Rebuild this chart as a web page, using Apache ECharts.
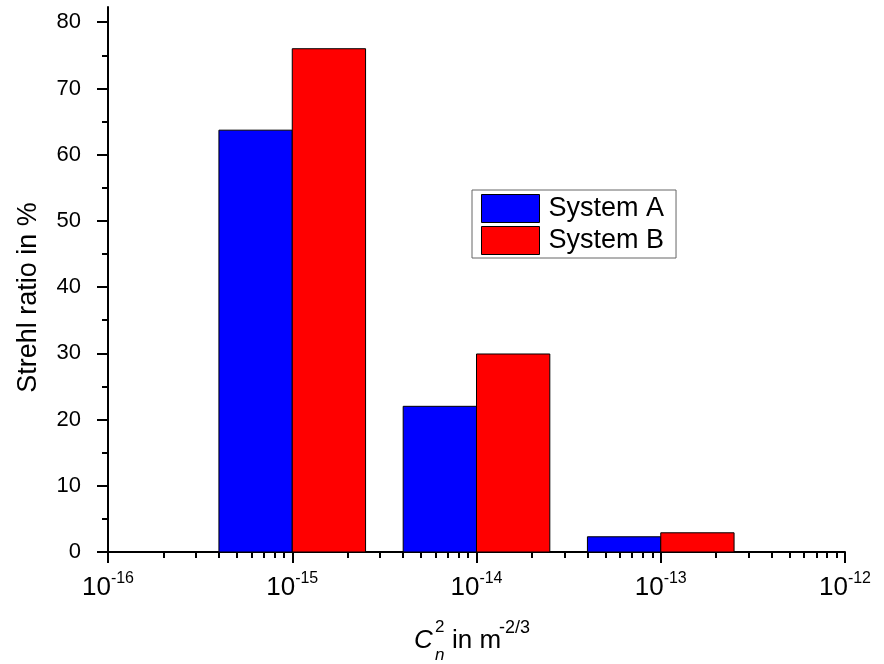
<!DOCTYPE html>
<html>
<head>
<meta charset="utf-8">
<script src="https://cdn.jsdelivr.net/npm/echarts@6/dist/echarts.min.js"></script>
<style>
  html, body { margin: 0; padding: 0; background: #fff; }
  #chart { width: 884px; height: 664px; }
</style>
</head>
<body>
<div id="chart"></div>
<script>
// Refractive-index structure constant C_n^2 (m^-2/3) for each group of bars
const cn2Values = [1e-15, 1e-14, 1e-13];
// Strehl ratio (%) per system
const systemA = [63.7, 22.0, 2.3];
const systemB = [76.0, 29.9, 2.9];
// Axis decades (exponents of ten) shown on the x axis
const xDecades = [-16, -15, -14, -13, -12];
// Major y tick values
const yTicks = [0, 10, 20, 30, 40, 50, 60, 70, 80];

// x axis works in units of 1e-16 so that the log scale stays well away from float rounding
const X_UNIT = Math.pow(10, xDecades[0]);
const toAxis = v => v / X_UNIT;

// Horizontal extent of each bar relative to its C_n^2 value (one bar per side of the value)
const SPAN_A = [0.4, 1];
const SPAN_B = [1, 2.5];

const FONT = '"Liberation Sans", Arial, sans-serif';

// Minor ticks 2..9 inside every decade
const minorX = [];
for (let d = 0; d < xDecades.length - 1; d++) {
  for (let k = 2; k <= 9; k++) minorX.push(k * Math.pow(10, d));
}
const minorY = yTicks.slice(0, -1).map(t => t + 5);

function barRenderer(span) {
  return function (params, api) {
    const c = api.value(0);
    const v = api.value(1);
    const p0 = api.coord([c * span[0], 0]);
    const p1 = api.coord([c * span[1], v]);
    return {
      type: 'rect',
      shape: { x: p0[0], y: p1[1], width: p1[0] - p0[0], height: p0[1] - p1[1] },
      style: api.style({ stroke: '#000', lineWidth: 1 })
    };
  };
}

const chart = echarts.init(document.getElementById('chart'), null, { renderer: 'canvas' });

const axisLineStyle = { color: '#000', width: 2 };

chart.setOption({
  animation: false,
  backgroundColor: '#fff',
  textStyle: { fontFamily: FONT },
  grid: { left: 108, right: 39, top: 7, bottom: 112 },
  legend: {
    orient: 'vertical',
    left: 472,
    top: 190,
    itemWidth: 58,
    itemHeight: 28,
    itemGap: 3,
    padding: [4, 12, 3, 9],
    borderColor: '#666',
    borderWidth: 1,
    icon: 'rect',
    textStyle: { fontFamily: FONT, fontSize: 27, color: '#000', padding: [0, 0, 0, 4] },
    data: [
      { name: 'System A', itemStyle: { color: '#0000ff', borderColor: '#000', borderWidth: 1 } },
      { name: 'System B', itemStyle: { color: '#ff0000', borderColor: '#000', borderWidth: 1 } }
    ]
  },
  xAxis: [
    {
      type: 'log',
      logBase: 10,
      min: toAxis(Math.pow(10, xDecades[0])),
      max: toAxis(Math.pow(10, xDecades[xDecades.length - 1])),
      position: 'bottom',
      axisLine: { show: true, onZero: false, lineStyle: axisLineStyle },
      axisTick: { show: true, length: 11, lineStyle: { color: '#000', width: 2 } },
      splitLine: { show: false },
      axisLabel: {
        margin: 19,
        formatter: function (v) {
          const e = Math.round(Math.log10(v)) + xDecades[0];
          return '{b|10}{s|' + e + '}';
        },
        rich: {
          b: { fontFamily: FONT, fontSize: 26, color: '#000', lineHeight: 34 },
          s: { fontFamily: FONT, fontSize: 16, color: '#000', verticalAlign: 'top', lineHeight: 16 }
        }
      }
    },
    {
      type: 'log',
      logBase: 10,
      min: toAxis(Math.pow(10, xDecades[0])),
      max: toAxis(Math.pow(10, xDecades[xDecades.length - 1])),
      position: 'bottom',
      axisLine: { show: false, onZero: false },
      axisTick: { show: true, length: 6, customValues: minorX, lineStyle: { color: '#000', width: 2 } },
      axisLabel: { show: false },
      splitLine: { show: false }
    }
  ],
  yAxis: [
    {
      type: 'value',
      min: 0,
      max: 82.3,
      position: 'left',
      name: 'Strehl ratio in %',
      nameLocation: 'middle',
      nameRotate: 90,
      nameGap: 66,
      nameTextStyle: { fontFamily: FONT, fontSize: 27, color: '#000', padding: [0, 36, 0, 0] },
      axisLine: { show: true, onZero: false, lineStyle: axisLineStyle },
      axisTick: { show: true, length: 11, customValues: yTicks, lineStyle: { color: '#000', width: 2 } },
      axisLabel: { customValues: yTicks, margin: 27, fontFamily: FONT, fontSize: 22, color: '#000' },
      splitLine: { show: false }
    },
    {
      type: 'value',
      min: 0,
      max: 82.3,
      position: 'left',
      axisLine: { show: false, onZero: false },
      axisTick: { show: true, length: 6, customValues: minorY, lineStyle: { color: '#000', width: 2 } },
      axisLabel: { show: false },
      splitLine: { show: false }
    }
  ],
  series: [
    {
      name: 'System A',
      type: 'custom',
      xAxisIndex: 0,
      yAxisIndex: 0,
      itemStyle: { color: '#0000ff' },
      renderItem: barRenderer(SPAN_A),
      encode: { x: 0, y: 1 },
      data: cn2Values.map((c, i) => [toAxis(c), systemA[i]])
    },
    {
      name: 'System B',
      type: 'custom',
      xAxisIndex: 0,
      yAxisIndex: 0,
      itemStyle: { color: '#ff0000' },
      renderItem: barRenderer(SPAN_B),
      encode: { x: 0, y: 1 },
      data: cn2Values.map((c, i) => [toAxis(c), systemB[i]])
    }
  ],
  // x axis title: C with stacked superscript 2 / subscript n, then the unit
  graphic: [
    { type: 'text', left: 414, top: 628, style: { text: 'C', font: 'italic 26px ' + FONT, fill: '#000' } },
    { type: 'text', left: 435, top: 619, style: { text: '2', font: '17px ' + FONT, fill: '#000' } },
    { type: 'text', left: 435, top: 647, style: { text: 'n', font: 'italic 17px ' + FONT, fill: '#000' } },
    { type: 'text', left: 452, top: 628, style: { text: 'in m', font: '26px ' + FONT, fill: '#000' } },
    { type: 'text', left: 499, top: 619, style: { text: '-2/3', font: '18px ' + FONT, fill: '#000' } }
  ]
});
</script>
</body>
</html>
